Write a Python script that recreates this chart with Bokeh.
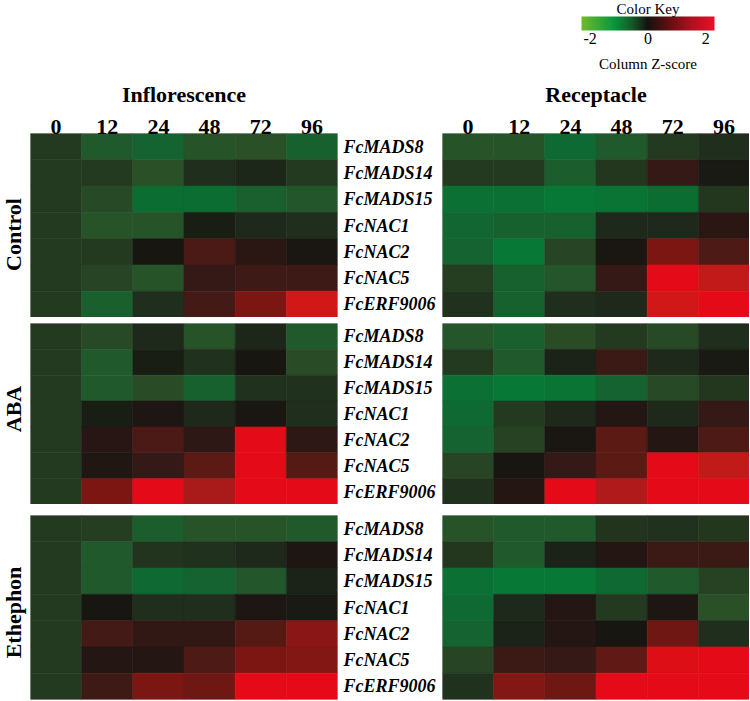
import numpy as np
from bokeh.plotting import figure
from bokeh.models import (ColumnDataSource, LinearColorMapper, CategoricalAxis, FactorRange,
                          ColorBar, FixedTicker, Label, Range1d, Spacer)
from bokeh.layouts import column, row
from bokeh.embed import file_html
from bokeh.resources import INLINE

# ---------------- data ----------------
times = ["0", "12", "24", "48", "72", "96"]
genes = ["FcMADS8", "FcMADS14", "FcMADS15", "FcNAC1", "FcNAC2", "FcNAC5", "FcERF9006"]
treatments = ["Control", "ABA", "Ethephon"]
tissues = ["Inflorescence", "Receptacle"]
key_ticks = [-2, 0, 2]
key_tick_labels = ["-2", "0", "2"]

control_inflorescence = [
    [-0.5, -1.0, -1.2, -0.85, -0.8, -1.15],
    [-0.5, -0.5, -0.8, -0.3, -0.2, -0.5],
    [-0.5, -0.7, -1.35, -1.35, -1.1, -0.95],
    [-0.5, -0.85, -0.85, -0.1, -0.25, -0.3],
    [-0.5, -0.5, 0.0, 0.8, 0.3, 0.05],
    [-0.5, -0.65, -0.85, 0.45, 0.6, 0.6],
    [-0.5, -1.1, -0.3, 0.7, 1.3, 1.85],
]
control_receptacle = [
    [-0.85, -0.85, -1.3, -1.0, -0.5, -0.3],
    [-0.5, -0.5, -1.05, -0.45, 0.45, -0.05],
    [-1.4, -1.4, -1.5, -1.45, -1.35, -0.45],
    [-1.25, -1.15, -1.15, -0.25, -0.25, 0.3],
    [-1.2, -1.5, -0.65, 0.05, 1.3, 0.85],
    [-0.55, -1.15, -0.9, 0.45, 2.0, 1.75],
    [-0.35, -1.15, -0.3, -0.25, 1.85, 2.0],
]
aba_inflorescence = [
    [-0.5, -0.7, -0.25, -0.85, -0.2, -1.0],
    [-0.5, -1.0, -0.1, -0.35, 0.0, -0.75],
    [-0.5, -1.0, -0.75, -1.15, -0.35, -0.35],
    [-0.5, -0.1, 0.1, -0.25, 0.05, -0.3],
    [-0.5, 0.25, 0.8, 0.35, 2.0, 0.35],
    [-0.5, 0.15, 0.45, 1.0, 2.0, 0.95],
    [-0.5, 1.3, 2.0, 1.6, 2.0, 2.0],
]
aba_receptacle = [
    [-0.9, -1.1, -0.75, -0.5, -0.7, -0.3],
    [-0.5, -1.0, -0.15, 0.55, -0.25, -0.05],
    [-1.4, -1.5, -1.45, -1.2, -0.7, -0.45],
    [-1.3, -0.5, -0.25, 0.2, -0.25, 0.45],
    [-1.2, -0.6, 0.05, 1.0, 0.2, 0.85],
    [-0.65, 0.0, 0.45, 1.0, 2.0, 1.75],
    [-0.35, 0.2, 2.0, 1.65, 2.0, 2.0],
]
ethephon_inflorescence = [
    [-0.5, -0.55, -1.05, -0.85, -0.85, -1.0],
    [-0.5, -1.0, -0.4, -0.35, -0.25, 0.1],
    [-0.5, -1.0, -1.3, -1.2, -0.95, -0.15],
    [-0.5, 0.0, -0.3, -0.3, 0.1, -0.05],
    [-0.5, 0.7, 0.4, 0.4, 0.95, 1.4],
    [-0.5, 0.2, 0.2, 0.85, 1.3, 1.35],
    [-0.5, 0.6, 1.3, 1.2, 2.0, 2.0],
]
ethephon_receptacle = [
    [-0.85, -1.0, -1.0, -0.4, -0.35, -0.45],
    [-0.45, -1.0, -0.15, 0.2, 0.55, 0.55],
    [-1.4, -1.5, -1.5, -1.3, -1.0, -0.6],
    [-1.3, -0.25, 0.2, -0.5, 0.1, -0.8],
    [-1.2, -0.15, 0.2, 0.0, 1.2, -0.3],
    [-0.65, 0.55, 0.45, 1.05, 1.95, 2.0],
    [-0.35, 1.35, 1.2, 2.0, 2.0, 2.0],
]
panels = [
    [control_inflorescence, control_receptacle],
    [aba_inflorescence, aba_receptacle],
    [ethephon_inflorescence, ethephon_receptacle],
]

# ---------------- colour scales ----------------
def make_palette(stops, lo, hi, n=256):
    zs = np.array([s[0] for s in stops], dtype=float)
    cols = np.array([s[1] for s in stops], dtype=float)
    grid = np.linspace(lo, hi, n)
    out = []
    for g in grid:
        r = np.interp(g, zs, cols[:, 0]); gg = np.interp(g, zs, cols[:, 1]); b = np.interp(g, zs, cols[:, 2])
        out.append("#%02x%02x%02x" % (int(round(r)), int(round(gg)), int(round(b))))
    return out

heat_stops = [
    (-2.0, (40, 140, 60)), (-1.5, (7, 120, 53)), (-1.3, (14, 104, 50)), (-1.0, (32, 90, 44)),
    (-0.8, (42, 80, 40)), (-0.5, (36, 58, 32)), (-0.25, (30, 42, 28)), (0.0, (22, 22, 16)),
    (0.25, (38, 22, 20)), (0.5, (56, 26, 22)), (0.8, (74, 26, 22)), (1.0, (90, 26, 20)),
    (1.3, (122, 22, 18)), (1.6, (168, 26, 26)), (1.85, (208, 24, 24)), (2.0, (228, 10, 23)),
]
key_stops = [
    (-2.3, (110, 186, 45)), (-1.2, (8, 152, 62)), (-0.55, (22, 88, 40)), (0.0, (22, 18, 14)),
    (0.7, (95, 14, 16)), (1.5, (176, 16, 32)), (2.3, (232, 16, 40)),
]
heat_mapper = LinearColorMapper(palette=make_palette(heat_stops, -2, 2), low=-2, high=2)
key_mapper = LinearColorMapper(palette=make_palette(key_stops, -2.3, 2.3), low=-2.3, high=2.3)

SERIF = "Liberation Serif"
BORDERS_TOP = [63, 6, 11]
BORDERS_BOTTOM = [0, 0, 1]
FRAMES = [184, 181, 184]
LABEL_SHIFT = [-9, 5, -5]   # small vertical nudges of the row labels (px)
LABEL_W = 30


def blank_fig(w, h, top=0, bottom=0):
    f = figure(width=w, height=h, x_range=Range1d(0, w), y_range=Range1d(0, h - top - bottom),
               x_axis_location=None, y_axis_location=None,
               output_backend="svg", toolbar_location=None, tools="")
    f.min_border = 0
    f.min_border_top = top
    f.min_border_bottom = bottom
    f.outline_line_color = None
    f.grid.visible = False
    return f


def make_row_label(r):
    h = BORDERS_TOP[r] + FRAMES[r] + BORDERS_BOTTOM[r]
    f = blank_fig(LABEL_W, h, BORDERS_TOP[r], BORDERS_BOTTOM[r])
    f.add_layout(Label(x=13, y=FRAMES[r] / 2 + LABEL_SHIFT[r], text=treatments[r],
                       angle=np.pi / 2, text_align="center", text_baseline="middle",
                       text_font=SERIF, text_font_style="bold", text_font_size="22px",
                       text_color="black"))
    return f


def make_panel(values, r, c):
    is_left = c == 0
    top = r == 0
    p = figure(width=412 if is_left else 307,
               height=BORDERS_TOP[r] + FRAMES[r] + BORDERS_BOTTOM[r],
               x_range=FactorRange(*times), y_range=FactorRange(*genes[::-1]),
               x_axis_location="above" if top else None,
               y_axis_location=None,
               output_backend="svg", toolbar_location=None, tools="")
    p.min_border_top = BORDERS_TOP[r]
    p.min_border_bottom = BORDERS_BOTTOM[r]
    p.min_border_left = 0
    p.min_border_right = 105 if is_left else 0
    p.background_fill_color = "white"
    p.border_fill_color = "white"
    p.outline_line_color = "#c4c4c4"
    p.grid.visible = False

    src = ColumnDataSource(dict(
        time=[t for g in genes for t in times],
        gene=[g for g in genes for t in times],
        z=[v for rowv in values for v in rowv],
    ))
    p.rect(x="time", y="gene", width=1, height=1, source=src,
           fill_color={"field": "z", "transform": heat_mapper},
           line_color={"field": "z", "transform": heat_mapper}, line_width=0.6)

    if top:
        xa = p.xaxis[0]
        xa.axis_label = tissues[c]
        xa.axis_label_text_font = SERIF
        xa.axis_label_text_font_style = "bold"
        xa.axis_label_text_font_size = "22px"
        xa.axis_label_text_color = "black"
        xa.axis_label_standoff = 10
        xa.major_label_text_font = SERIF
        xa.major_label_text_font_style = "bold"
        xa.major_label_text_font_size = "22px"
        xa.major_label_text_color = "black"
        xa.major_label_standoff = 0
        xa.major_tick_out = 0
        xa.major_tick_in = 0
        xa.axis_line_color = None

    if is_left:
        ga = CategoricalAxis()
        ga.major_label_text_font = SERIF
        ga.major_label_text_font_style = "bold italic"
        ga.major_label_text_font_size = "18px"
        ga.major_label_text_color = "black"
        ga.major_label_standoff = 6
        ga.major_tick_out = 0
        ga.major_tick_in = 0
        ga.axis_line_color = None
        p.add_layout(ga, "right")
    return p

# ---------------- colour key ----------------
KEY_W, KEY_H = 189, 70
key = blank_fig(KEY_W, KEY_H)
cb = ColorBar(color_mapper=key_mapper, orientation="horizontal", location=(21, 24),
              width=133, height=14, padding=0,
              ticker=FixedTicker(ticks=key_ticks),
              major_label_overrides={t: s for t, s in zip(key_ticks, key_tick_labels)},
              major_tick_line_color=None, minor_tick_line_color=None,
              label_standoff=2, bar_line_color=None, border_line_color=None,
              background_fill_color=None,
              major_label_text_font=SERIF, major_label_text_font_size="16px",
              major_label_text_color="black")
key.add_layout(cb, "center")
key.add_layout(Label(x=87.5, y=KEY_H, text="Color Key", text_align="center",
                     text_baseline="top",
                     text_font=SERIF, text_font_size="15px", text_color="black"))
key.add_layout(Label(x=87.5, y=15, text="Column Z-score", text_align="center",
                     text_baseline="top",
                     text_font=SERIF, text_font_size="15px", text_color="black"))

rows = [row(Spacer(width=560, height=KEY_H), key)]
for r in range(3):
    rows.append(row(make_row_label(r), make_panel(panels[r][0], r, 0), make_panel(panels[r][1], r, 1)))
layout = column(*rows)

open("out.html", "w").write(file_html(layout, INLINE))
